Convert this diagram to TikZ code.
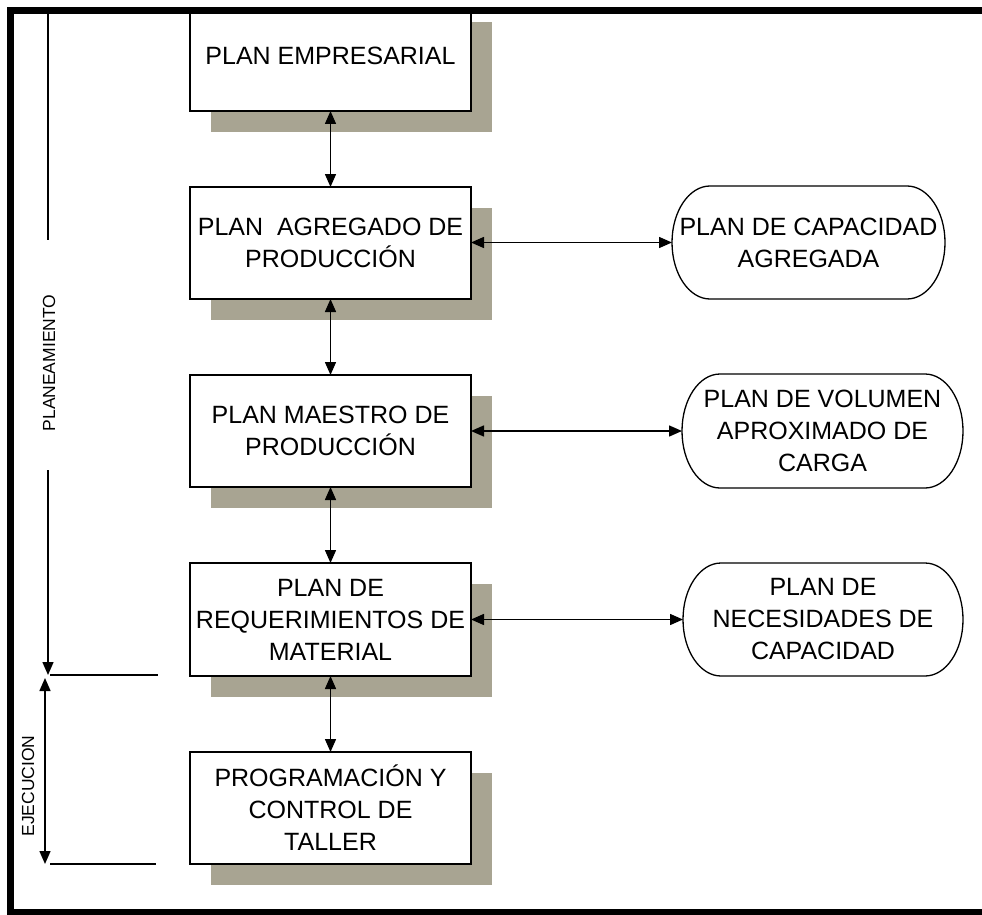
\documentclass[tikz,border=0pt]{standalone}
\usepackage{fontspec}
\setmainfont{Liberation Sans}
\usetikzlibrary{arrows.meta,shadows}
\definecolor{shadowc}{RGB}{168,164,146}
\begin{document}
\begin{tikzpicture}[x=1pt,y=-1pt,
  every node/.style={inner sep=0pt, outer sep=0pt},
  box/.style={draw=black, line width=1.5pt, fill=white, minimum width=281pt, minimum height=112pt,
    align=center, font=\fontsize{25}{32}\selectfont,
    general shadow={fill=shadowc, draw=none, shadow xshift=21pt, shadow yshift=-21pt}},
  term/.style={minimum width=280pt, minimum height=113pt, align=center, font=\fontsize{25}{32}\selectfont},
  termline/.style={draw=black, line width=1.3pt},
  link/.style={line width=1.5pt, {Triangle[length=13pt,width=11pt]}-{Triangle[length=13pt,width=11pt]}},
  tipline/.style={line width=1.5pt, -{Triangle[length=13pt,width=11pt]}},
  plain/.style={line width=1.5pt},
  side/.style={font=\fontsize{17.5}{20}\selectfont, rotate=90}
]
\useasboundingbox (0,0) rectangle (982,915);

% main boxes
\node[box, minimum height=110pt] (b1) at (330.5,56) {\raisebox{-4pt}{PLAN EMPRESARIAL}};
\node[box] (b2) at (330.5,243) {PLAN\ \ AGREGADO DE\\PRODUCCIÓN};
\node[box] (b3) at (330.5,431) {PLAN MAESTRO DE\\PRODUCCIÓN};
\node[box, minimum height=113pt] (b4) at (330.5,619.5) {PLAN DE\\REQUERIMIENTOS DE\\MATERIAL};
\node[box] (b5) at (330.5,808) {PROGRAMACIÓN Y\\CONTROL DE\\TALLER};

% terminators
\node[term, minimum width=273pt] (e1) at (808.5,242.5) {PLAN DE CAPACIDAD\\AGREGADA};
\node[term, minimum width=281pt, minimum height=114pt] (e2) at (822.5,431) {PLAN DE VOLUMEN\\APROXIMADO DE\\CARGA};
\node[term] (e3) at (823,619.5) {PLAN DE\\NECESIDADES DE\\CAPACIDAD};
\foreach \e/\ry in {e1/56.5pt, e2/57pt, e3/56.5pt}{
  \draw[termline] ([xshift=38pt]\e.north west) -- ([xshift=-38pt]\e.north east)
    arc[start angle=90, end angle=-90, x radius=38pt, y radius=\ry]
    -- ([xshift=38pt]\e.south west)
    arc[start angle=270, end angle=90, x radius=38pt, y radius=\ry] -- cycle;
}

% vertical links
\draw[link] (b1) -- (b2);
\draw[link] (b2) -- (b3);
\draw[link] (b3) -- (b4);
\draw[link] (b4) -- (b5);

% horizontal links
\draw[link] (e1.west -| b2.east) -- (e1.west);
\draw[link] (e2.west -| b3.east) -- (e2.west);
\draw[link] (e3.west -| b4.east) -- (e3.west);

% left annotations
\coordinate (pa) at (48,14);
\coordinate (pb) at (48,240);
\coordinate (pc) at (48,470);
\coordinate (pd) at (48,675);
\coordinate (h1a) at (50,675);
\coordinate (h1b) at (158,675);
\coordinate (ea) at (45,678);
\coordinate (eb) at (45,864);
\coordinate (h2a) at (50,864);
\coordinate (h2b) at (156,864);
\draw[plain] (pa) -- (pb);
\draw[tipline] (pc) -- (pd);
\draw[plain] (h1a) -- (h1b);
\draw[link] (ea) -- (eb);
\draw[plain] (h2a) -- (h2b);
\node[side] (plan) at (49,363) {PLANEAMIENTO};
\node[side] (ejec) at (28,786) {EJECUCION};

% frame
\fill[white] (0,0) rectangle (982,7);
\fill[black] (7,7) rectangle (982,14);
\fill[black] (7,7) rectangle (14,915);
\fill[black] (7,909) rectangle (982,915);
\end{tikzpicture}
\end{document}
